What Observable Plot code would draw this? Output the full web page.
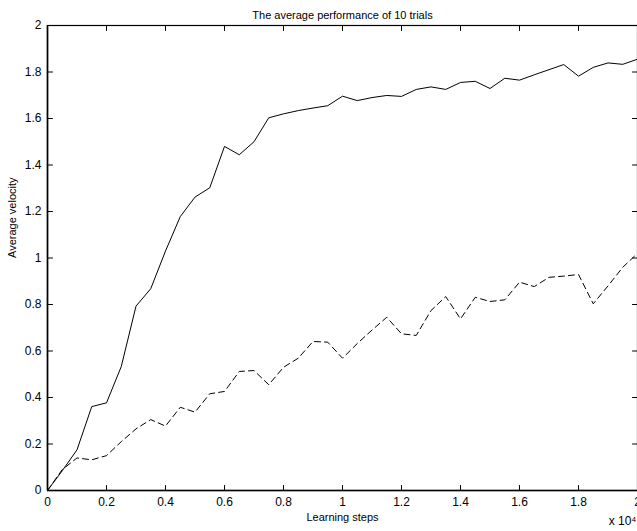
<!DOCTYPE html>
<html>
<head>
<meta charset="utf-8">
<script src="https://cdn.jsdelivr.net/npm/d3@7"></script>
<script src="https://cdn.jsdelivr.net/npm/@observablehq/plot@0.6"></script>
<style>
  html, body { margin: 0; padding: 0; background: #fff; }
  svg { display: block; }
</style>
</head>
<body>
<div id="chart"></div>
<script>
const steps = [0, 0.05, 0.1, 0.15, 0.2, 0.25, 0.3, 0.35, 0.4, 0.45, 0.5, 0.55, 0.6, 0.65, 0.7, 0.75, 0.8, 0.85, 0.9, 0.95,
  1.0, 1.05, 1.1, 1.15, 1.2, 1.25, 1.3, 1.35, 1.4, 1.45, 1.5, 1.55, 1.6, 1.65, 1.7, 1.75, 1.8, 1.85, 1.9, 1.95, 2.0];
const solidSeries = [0, 0.085, 0.175, 0.361, 0.377, 0.533, 0.793, 0.868, 1.03, 1.178, 1.262, 1.302, 1.48, 1.444, 1.50, 1.603, 1.62, 1.634, 1.645, 1.655,
  1.696, 1.677, 1.69, 1.699, 1.695, 1.725, 1.736, 1.725, 1.755, 1.76, 1.729, 1.773, 1.765, 1.788, 1.81, 1.832, 1.782, 1.82, 1.839, 1.833, 1.855];
const dashedSeries = [0, 0.09, 0.14, 0.132, 0.15, 0.21, 0.265, 0.305, 0.277, 0.358, 0.337, 0.416, 0.426, 0.512, 0.516, 0.455, 0.53, 0.569, 0.641, 0.638,
  0.569, 0.632, 0.69, 0.745, 0.674, 0.667, 0.774, 0.834, 0.738, 0.831, 0.813, 0.82, 0.896, 0.877, 0.917, 0.922, 0.929, 0.803, 0.88, 0.96, 1.02];
const xTicks = [0, 0.2, 0.4, 0.6, 0.8, 1, 1.2, 1.4, 1.6, 1.8, 2];
const yTicks = [0, 0.2, 0.4, 0.6, 0.8, 1, 1.2, 1.4, 1.6, 1.8, 2];
const xTickLabels = ["0", "0.2", "0.4", "0.6", "0.8", "1", "1.2", "1.4", "1.6", "1.8", "2"];
const yTickLabels = ["0", "0.2", "0.4", "0.6", "0.8", "1", "1.2", "1.4", "1.6", "1.8", "2"];
const titleText = "The average performance of 10 trials";
const xLabel = "Learning steps";
const yLabel = "Average velocity";
const xExponent = "x 10\u2074";

const solidData = steps.map((s, i) => ({x: s, y: solidSeries[i]}));
const dashedData = steps.map((s, i) => ({x: s, y: dashedSeries[i]}));

const tickShape = {draw(context, l) { context.moveTo(0, 0); context.lineTo(0, -l); }};
const font = "'Liberation Sans', Arial, Helvetica, sans-serif";

const chart = Plot.plot({
  width: 637,
  height: 531,
  marginLeft: 47,
  marginRight: 0,
  marginTop: 25,
  marginBottom: 41,
  style: {fontFamily: font, fontSize: "11px", color: "#000", background: "#fff"},
  x: {domain: [0, 2]},
  y: {domain: [0, 2]},
  marks: [
    Plot.frame({stroke: "#000", strokeWidth: 1.2}),
    Plot.ruleX([0], {stroke: "#000", strokeWidth: 1.6}),
    Plot.ruleY([0], {stroke: "#000", strokeWidth: 1.6}),
    // inward ticks
    Plot.vector(xTicks, {x: d => d, y: 0, length: 5, rotate: 0, anchor: "start", shape: tickShape, stroke: "#000", strokeWidth: 1}),
    Plot.vector(xTicks, {x: d => d, y: 2, length: 5, rotate: 180, anchor: "start", shape: tickShape, stroke: "#000", strokeWidth: 1}),
    Plot.vector(yTicks, {x: 0, y: d => d, length: 5, rotate: 90, anchor: "start", shape: tickShape, stroke: "#000", strokeWidth: 1}),
    Plot.vector(yTicks, {x: 2, y: d => d, length: 5, rotate: 270, anchor: "start", shape: tickShape, stroke: "#000", strokeWidth: 1}),
    Plot.axisX({ticks: xTicks, tickSize: 0, tickPadding: 7, tickFormat: (d, i) => xTickLabels[i], label: null, fontSize: 12}),
    Plot.axisY({ticks: yTicks, tickSize: 0, tickPadding: 6, tickFormat: (d, i) => yTickLabels[i], label: null, fontSize: 12}),
    Plot.line(solidData, {x: "x", y: "y", stroke: "#000", strokeWidth: 1}),
    Plot.line(dashedData, {x: "x", y: "y", stroke: "#000", strokeWidth: 1, strokeDasharray: "6,4"}),
    Plot.text([titleText], {frameAnchor: "top", dy: -14, text: d => d, fontSize: 11, fill: "#000"}),
    Plot.text([xLabel], {frameAnchor: "bottom", dy: 30, text: d => d, fontSize: 11, fill: "#000"}),
    Plot.text([yLabel], {frameAnchor: "left", dx: -35, rotate: -90, text: d => d, fontSize: 11, fill: "#000"}),
    Plot.text([xExponent], {frameAnchor: "bottom-right", dx: -1, dy: 34, textAnchor: "end", text: d => d, fontSize: 12, fill: "#000"})
  ]
});
document.getElementById("chart").appendChild(chart);
</script>
</body>
</html>
